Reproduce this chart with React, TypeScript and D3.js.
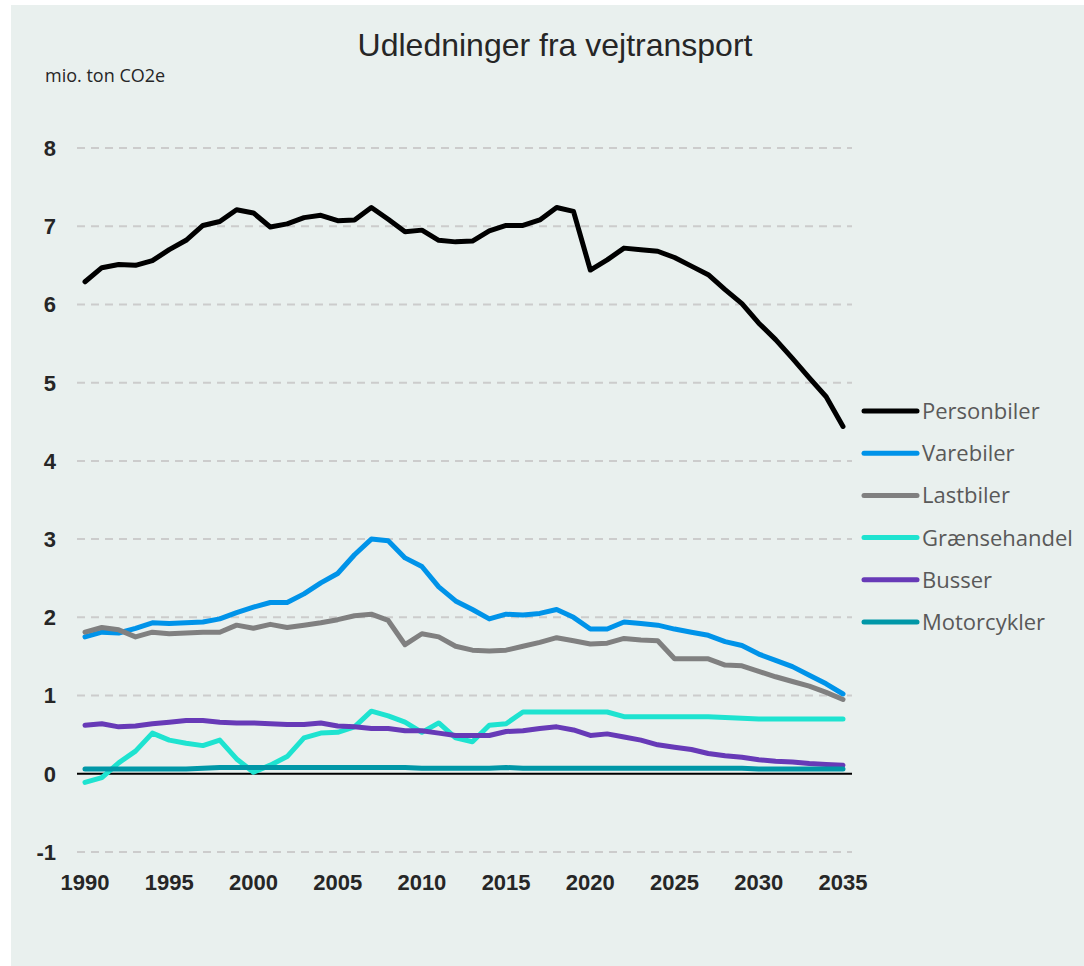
import React from 'react';
import * as d3 from 'd3';

const years = d3.range(1990, 2036);

const personbiler = [
  6.29, 6.47, 6.51, 6.50, 6.56, 6.70, 6.82, 7.01, 7.06, 7.21,
  7.17, 6.99, 7.03, 7.11, 7.14, 7.07, 7.08, 7.24, 7.09, 6.93,
  6.95, 6.82, 6.80, 6.81, 6.94, 7.01, 7.01, 7.08, 7.24, 7.19,
  6.44, 6.57, 6.72, 6.70, 6.68, 6.60, 6.49, 6.38, 6.19, 6.01,
  5.76, 5.55, 5.31, 5.06, 4.82, 4.44,
];
const varebiler = [
  1.75, 1.81, 1.80, 1.86, 1.93, 1.92, 1.93, 1.94, 1.98, 2.06,
  2.13, 2.19, 2.19, 2.30, 2.44, 2.56, 2.80, 3.00, 2.98, 2.76,
  2.65, 2.39, 2.21, 2.10, 1.98, 2.04, 2.03, 2.05, 2.10, 2.00,
  1.85, 1.85, 1.94, 1.92, 1.90, 1.85, 1.81, 1.77, 1.69, 1.64,
  1.53, 1.45, 1.37, 1.26, 1.15, 1.02,
];
const lastbiler = [
  1.81, 1.87, 1.84, 1.75, 1.81, 1.79, 1.80, 1.81, 1.81, 1.90,
  1.86, 1.91, 1.87, 1.90, 1.93, 1.97, 2.02, 2.04, 1.96, 1.65,
  1.79, 1.75, 1.63, 1.58, 1.57, 1.58, 1.63, 1.68, 1.74, 1.70,
  1.66, 1.67, 1.73, 1.71, 1.70, 1.47, 1.47, 1.47, 1.39, 1.38,
  1.31, 1.24, 1.18, 1.12, 1.04, 0.95,
];
const graensehandel = [
  -0.11, -0.05, 0.14, 0.29, 0.52, 0.43, 0.39, 0.36, 0.43, 0.19,
  0.02, 0.11, 0.22, 0.46, 0.52, 0.53, 0.60, 0.80, 0.74, 0.66,
  0.53, 0.65, 0.46, 0.41, 0.62, 0.64, 0.79, 0.79, 0.79, 0.79,
  0.79, 0.79, 0.73, 0.73, 0.73, 0.73, 0.73, 0.73, 0.72, 0.71,
  0.70, 0.70, 0.70, 0.70, 0.70, 0.70,
];
const busser = [
  0.62, 0.64, 0.60, 0.61, 0.64, 0.66, 0.68, 0.68, 0.66, 0.65,
  0.65, 0.64, 0.63, 0.63, 0.65, 0.61, 0.60, 0.58, 0.58, 0.55,
  0.55, 0.52, 0.49, 0.49, 0.49, 0.54, 0.55, 0.58, 0.60, 0.56,
  0.49, 0.51, 0.47, 0.43, 0.37, 0.34, 0.31, 0.26, 0.23, 0.21,
  0.18, 0.16, 0.15, 0.13, 0.12, 0.11,
];
const motorcykler = [
  0.06, 0.06, 0.06, 0.06, 0.06, 0.06, 0.06, 0.07, 0.08, 0.08,
  0.08, 0.08, 0.08, 0.08, 0.08, 0.08, 0.08, 0.08, 0.08, 0.08,
  0.07, 0.07, 0.07, 0.07, 0.07, 0.08, 0.07, 0.07, 0.07, 0.07,
  0.07, 0.07, 0.07, 0.07, 0.07, 0.07, 0.07, 0.07, 0.07, 0.07,
  0.06, 0.06, 0.06, 0.06, 0.06, 0.06,
];

const seriesNames = ['Personbiler', 'Varebiler', 'Lastbiler', 'Grænsehandel', 'Busser', 'Motorcykler'];
const seriesValues = [personbiler, varebiler, lastbiler, graensehandel, busser, motorcykler];
const seriesColors = ['#000000', '#0093e9', '#808080', '#1ee3d0', '#673ab7', '#0097a7'];

const yTicks = [-1, 0, 1, 2, 3, 4, 5, 6, 7, 8];
const xTicks = [1990, 1995, 2000, 2005, 2010, 2015, 2020, 2025, 2030, 2035];

export default function App() {
  const W = 1084;
  const H = 966;

  const x = d3.scaleLinear().domain([1990, 2035]).range([85, 843]);
  const y = d3.scaleLinear().domain([-1, 8]).range([852, 148]);

  const line = d3.line<number>()
    .x((d, i) => x(years[i]))
    .y(d => y(d));

  const gridX0 = 77;
  const gridX1 = 852;
  const axisFont = '"Liberation Sans", Arial, sans-serif';
  const legendFont = '"Open Sans", "Noto Sans", sans-serif';

  return (
    <svg width={W} height={H} style={{ position: 'absolute', left: 0, top: 0 }}>
      <rect x={0} y={0} width={W} height={H} fill="#ffffff" />
      <rect x={11} y={5} width={W - 11} height={H - 5} fill="#e9f0ee" />

      <text x={555} y={56} textAnchor="middle" fontFamily={axisFont} fontSize={32} fill="#262626">
        Udledninger fra vejtransport
      </text>
      <text x={45} y={82} fontFamily={legendFont} fontSize={18} fill="#262626">
        mio. ton CO2e
      </text>

      {yTicks.filter(t => t !== 0).map(t => (
        <line key={t} x1={gridX0} x2={gridX1} y1={y(t)} y2={y(t)}
          stroke="#cccccc" strokeWidth={2} strokeDasharray="8,6" />
      ))}
      <line x1={gridX0} x2={gridX1} y1={y(0)} y2={y(0)} stroke="#000000" strokeWidth={2} />

      {yTicks.map(t => (
        <text key={t} x={56} y={y(t)} dy="0.36em" textAnchor="end"
          fontFamily={axisFont} fontWeight="bold" fontSize={22} fill="#262626">
          {t}
        </text>
      ))}
      {xTicks.map(t => (
        <text key={t} x={x(t)} y={890} textAnchor="middle"
          fontFamily={axisFont} fontWeight="bold" fontSize={22} fill="#262626">
          {t}
        </text>
      ))}

      {seriesValues.map((vals, i) => (
        <path key={seriesNames[i]} d={line(vals) || ''} fill="none"
          stroke={seriesColors[i]} strokeWidth={5} strokeLinejoin="round" strokeLinecap="round" />
      ))}

      {seriesNames.map((name, i) => {
        const ly = 411 + i * 42.2;
        return (
          <g key={name}>
            <line x1={864} x2={917} y1={ly} y2={ly} stroke={seriesColors[i]} strokeWidth={5} strokeLinecap="round" />
            <text x={922} y={ly} dy="0.36em" fontFamily={legendFont} fontSize={22} fill="#595959">
              {name}
            </text>
          </g>
        );
      })}
    </svg>
  );
}
